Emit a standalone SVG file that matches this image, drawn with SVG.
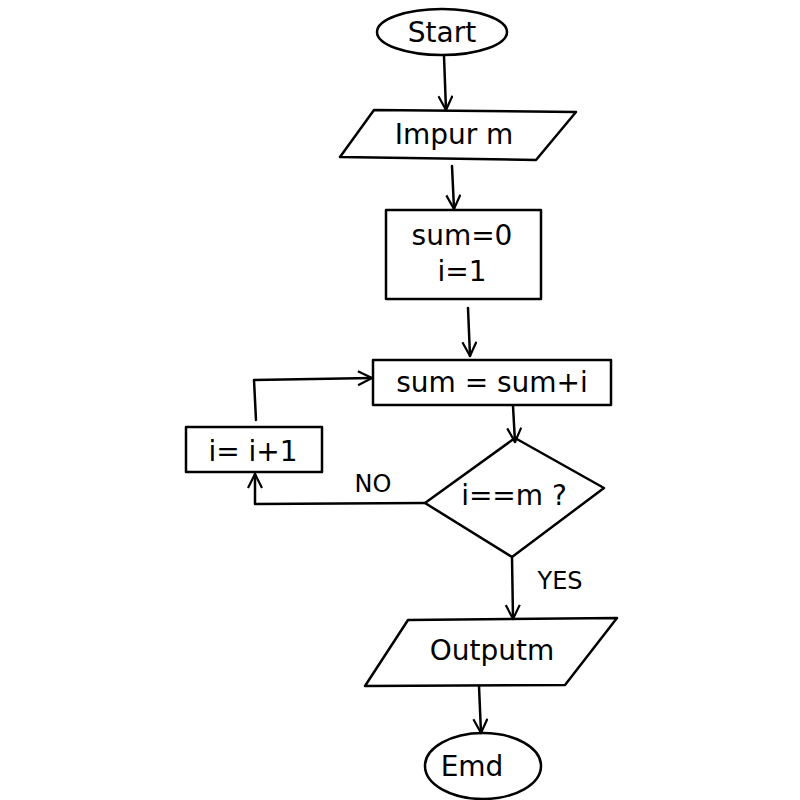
<svg xmlns="http://www.w3.org/2000/svg" width="800" height="800" viewBox="0 0 800 800">
<defs>
<style>
.s{fill:none;stroke:#000;stroke-width:2.5;stroke-linejoin:round;stroke-linecap:round}
.t{font-family:"DejaVu Sans","Liberation Sans",sans-serif;font-size:28px;fill:#000;text-anchor:middle;dominant-baseline:central}
.l{font-family:"DejaVu Sans","Liberation Sans",sans-serif;font-size:24px;fill:#000;text-anchor:middle;dominant-baseline:central}
</style>
<marker id="a" viewBox="0 0 16 16" refX="15" refY="8" markerWidth="16" markerHeight="16" markerUnits="userSpaceOnUse" orient="auto">
<path d="M1,1 L15,8 L1,15" fill="none" stroke="#000" stroke-width="2.2"/>
</marker>
</defs>
<rect width="800" height="800" fill="#fff"/>
<g id="connectors">
<path class="s" d="M444,56 L446,110" marker-end="url(#a)"/>
<path class="s" d="M452,166 L454,209" marker-end="url(#a)"/>
<path class="s" d="M468,308 L470,356" marker-end="url(#a)"/>
<path class="s" d="M513,406 L515,442" marker-end="url(#a)"/>
<path class="s" d="M425,503 L255,504 L255,474" marker-end="url(#a)"/>
<path class="s" d="M256,420 L254,380 L372,378" marker-end="url(#a)"/>
<path class="s" d="M512,557 L513,619" marker-end="url(#a)"/>
<path class="s" d="M479,686 L481,733" marker-end="url(#a)"/>
<text class="l" x="373" y="484">NO</text>
<text class="l" x="560" y="581">YES</text>
</g>
<g id="start">
<ellipse class="s" cx="442" cy="32" rx="65" ry="23"/>
<text class="t" x="442" y="32">Start</text>
</g>
<g id="input">
<path class="s" d="M374,110 L576,112 L536,160 L340,157 Z"/>
<text class="t" x="454" y="134">Impur m</text>
</g>
<g id="init">
<rect class="s" x="386" y="210" width="155" height="89"/>
<text class="t" x="462" y="235">sum=0</text>
<text class="t" x="462" y="271">i=1</text>
</g>
<g id="accumulate">
<rect class="s" x="373" y="360" width="238" height="45"/>
<text class="t" x="492" y="382">sum = sum+i</text>
</g>
<g id="increment">
<rect class="s" x="186" y="427" width="136" height="45"/>
<text class="t" x="253" y="451">i= i+1</text>
</g>
<g id="decision">
<path class="s" d="M515,438 L604,488 L512,557 L425,503 Z"/>
<text class="t" x="514" y="495">i==m ?</text>
</g>
<g id="output">
<path class="s" d="M408,620 L617,618 L565,685 L365,686 Z"/>
<text class="t" x="492" y="650">Outputm</text>
</g>
<g id="end">
<ellipse class="s" cx="483" cy="766" rx="58" ry="33"/>
<text class="t" x="472" y="766">Emd</text>
</g>
</svg>
